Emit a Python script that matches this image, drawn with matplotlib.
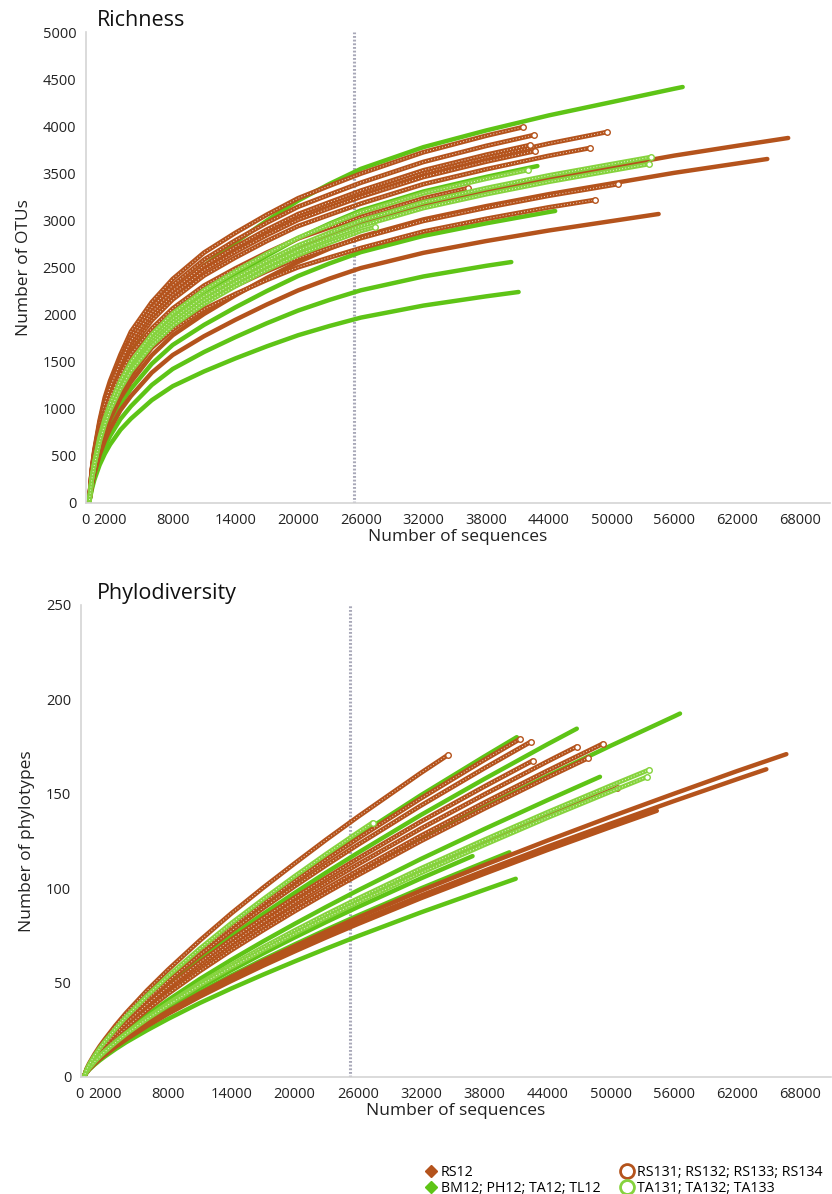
import matplotlib
matplotlib.use('Agg')
import matplotlib.pyplot as plt
from matplotlib.lines import Line2D

plt.rcParams['font.family'] = ['Open Sans', 'DejaVu Sans']

grid = [0, 250, 500, 1000, 1500, 2000, 3000, 4000, 6000, 8000, 11000, 14000, 17000,
        20000, 23000, 26000, 32000, 38000, 44000, 50000, 56000, 62000, 68000]
rarefy_depth = 25300

# ---- Richness (number of OTUs) ----
rich_rs12 = [
    [0, 214, 372, 610, 788, 937, 1175, 1353, 1651, 1874, 2112, 2320, 2513, 2691, 2840, 2974, 3167, 3316, 3450, 3569, 3688, 3792],
    [0, 204, 353, 580, 749, 891, 1117, 1286, 1569, 1781, 2007, 2205, 2389, 2558, 2700, 2827, 3011, 3152, 3279, 3392, 3505, 3604],
    [0, 180, 312, 511, 661, 786, 985, 1135, 1384, 1571, 1771, 1945, 2107, 2257, 2382, 2494, 2656, 2781, 2893, 2993],
]
rich_rs12_end = [(66900, 3875), (64900, 3652), (54500, 3068)]

rich_bm12 = [
    [0, 255, 443, 727, 940, 1117, 1401, 1614, 1969, 2235, 2518, 2767, 2997, 3210, 3387, 3547, 3778, 3955, 4115, 4256, 4398],
    [0, 224, 388, 637, 823, 978, 1226, 1413, 1723, 1956, 2205, 2422, 2624, 2810, 2965, 3105, 3307, 3462],
    [0, 192, 333, 546, 706, 839, 1052, 1212, 1478, 1678, 1891, 2077, 2250, 2410, 2543, 2663, 2836, 2969, 3089],
    [0, 163, 282, 463, 598, 711, 892, 1027, 1253, 1423, 1603, 1761, 1908, 2043, 2156, 2258, 2405, 2518],
    [0, 142, 246, 403, 522, 620, 777, 895, 1092, 1240, 1397, 1535, 1663, 1781, 1879, 1968, 2096, 2194],
]
rich_bm12_end = [(56800, 4416), (42900, 3577), (44600, 3100), (40400, 2558), (41100, 2240)]

rich_rs13 = [
    [0, 350, 560, 874, 1119, 1294, 1574, 1818, 2133, 2378, 2658, 2868, 3060, 3235, 3368, 3497, 3724, 3899],
    [0, 340, 544, 850, 1088, 1258, 1530, 1768, 2074, 2312, 2584, 2788, 2975, 3145, 3274, 3400, 3621, 3791],
    [0, 329, 526, 823, 1053, 1217, 1481, 1711, 2007, 2237, 2500, 2698, 2879, 3043, 3168, 3290, 3504, 3668, 3816],
    [0, 318, 508, 795, 1017, 1176, 1430, 1653, 1939, 2161, 2415, 2606, 2781, 2940, 3060, 3178, 3385, 3543, 3686],
    [0, 325, 520, 813, 1040, 1203, 1463, 1690, 1983, 2210, 2470, 2665, 2844, 3006, 3130, 3250, 3461, 3624],
    [0, 332, 531, 829, 1061, 1227, 1492, 1724, 2023, 2255, 2520, 2719, 2902, 3067, 3193, 3316, 3532, 3697],
    [0, 304, 486, 759, 972, 1124, 1367, 1579, 1853, 2065, 2308, 2490, 2657, 2809, 2925, 3037, 3234],
    [0, 281, 450, 703, 900, 1040, 1265, 1462, 1715, 1912, 2137, 2306, 2461, 2601, 2708, 2812, 2995, 3135, 3262, 3374],
    [0, 271, 433, 677, 866, 1001, 1218, 1407, 1651, 1840, 2057, 2219, 2368, 2503, 2606, 2706, 2882, 3017, 3139],
]
rich_rs13_end = [(41500, 3990), (42600, 3907), (49550, 3938), (47950, 3769), (42700, 3737),
                 (42200, 3800), (36300, 3344), (50600, 3386), (48400, 3217)]

rich_ta13 = [
    [0, 255, 420, 675, 869, 1019, 1259, 1454, 1739, 1955, 2195, 2389, 2569, 2734, 2869, 2998, 3193, 3343, 3478, 3598],
    [0, 250, 412, 662, 853, 1000, 1235, 1426, 1705, 1917, 2152, 2343, 2520, 2681, 2814, 2940, 3131, 3278, 3410, 3528],
    [0, 262, 432, 695, 895, 1050, 1297, 1497, 1790, 2013, 2260, 2460, 2646, 2815, 2954, 3087, 3288, 3442],
    [0, 245, 404, 650, 837, 982, 1213, 1400, 1674, 1882, 2113, 2301, 2474, 2633, 2763, 2887],
]
rich_ta13_end = [(53800, 3673), (53600, 3599), (42000, 3535), (27400, 2930)]

# ---- Phylodiversity (number of phylotypes) ----
phylo_rs12 = [
    [0, 2.6, 4.4, 7.3, 10.0, 12.3, 16.7, 20.8, 28.1, 34.9, 44.3, 53.1, 61.4, 69.3, 77.0, 84.4, 98.7, 112.2, 125.2, 137.8, 150.0, 162.0],
    [0, 2.5, 4.3, 7.2, 9.7, 12.0, 16.3, 20.2, 27.4, 33.9, 43.2, 51.7, 59.8, 67.5, 75.0, 82.2, 96.1, 109.2, 122.0, 134.2, 146.1, 157.7],
    [0, 2.5, 4.2, 7.0, 9.6, 11.8, 16.0, 19.9, 27.0, 33.5, 42.5, 50.9, 58.9, 66.5, 73.9, 81.0, 94.7, 107.6, 120.2, 132.3],
]
phylo_rs12_end = [(66700, 171), (64800, 163), (54400, 141)]

phylo_bm12 = [
    [0, 4.0, 6.6, 11.1, 15.1, 18.6, 25.3, 31.4, 42.5, 52.7, 67.0, 80.3, 92.8, 104.8, 116.5, 127.7, 149.3, 169.7],
    [0, 3.7, 6.2, 10.3, 14.0, 17.3, 23.5, 29.2, 39.5, 49.0, 62.3, 74.7, 86.3, 97.5, 108.3, 118.7, 138.8, 157.8, 176.2],
    [0, 3.3, 5.6, 9.3, 12.7, 15.7, 21.3, 26.4, 35.8, 44.4, 56.4, 67.6, 78.1, 88.2, 97.9, 107.4, 125.6, 142.7, 159.4, 175.4, 190.9],
    [0, 3.1, 5.1, 8.6, 11.7, 14.4, 19.6, 24.3, 32.9, 40.8, 51.9, 62.1, 71.8, 81.1, 90.1, 98.8, 115.5, 131.3, 146.6],
    [0, 2.8, 4.7, 7.8, 10.6, 13.1, 17.8, 22.1, 30.0, 37.2, 47.3, 56.6, 65.4, 73.9, 82.1, 90.0, 105.2],
    [0, 2.3, 3.9, 6.5, 8.8, 10.9, 14.8, 18.4, 24.8, 30.8, 39.2, 46.9, 54.2, 61.2, 68.0, 74.6, 87.2, 99.1],
    [0, 2.7, 4.4, 7.4, 10.1, 12.5, 16.9, 21.0, 28.5, 35.3, 44.9, 53.8, 62.2, 70.2, 78.0, 85.5, 99.9, 113.6],
]
phylo_bm12_end = [(41100, 180), (46800, 184.5), (56600, 192.5), (49000, 159),
                  (36900, 117), (41000, 105), (40400, 119)]

phylo_rs13 = [
    [0, 4.3, 7.2, 12.0, 16.3, 20.1, 27.3, 33.9, 45.9, 56.9, 72.3, 86.7, 100.2, 113.1, 125.7, 137.8, 161.1],
    [0, 3.9, 6.6, 11.0, 14.9, 18.4, 25.0, 31.1, 42.1, 52.2, 66.3, 79.4, 91.8, 103.7, 115.2, 126.3, 147.6, 167.9],
    [0, 3.8, 6.4, 10.7, 14.5, 18.0, 24.4, 30.3, 41.0, 50.8, 64.6, 77.4, 89.4, 101.0, 112.2, 123.0, 143.8, 163.5],
    [0, 3.5, 5.9, 9.8, 13.3, 16.4, 22.3, 27.7, 37.5, 46.5, 59.1, 70.8, 81.9, 92.4, 102.7, 112.6, 131.6, 149.6, 167.1],
    [0, 3.4, 5.7, 9.5, 12.9, 16.0, 21.6, 26.9, 36.4, 45.1, 57.4, 68.7, 79.5, 89.7, 99.7, 109.3, 127.8, 145.3, 162.2],
    [0, 3.3, 5.6, 9.3, 12.6, 15.6, 21.2, 26.3, 35.6, 44.2, 56.1, 67.2, 77.7, 87.8, 97.5, 106.9, 125.0, 142.1, 158.6],
    [0, 3.6, 6.0, 10.1, 13.7, 16.9, 22.9, 28.5, 38.5, 47.8, 60.7, 72.8, 84.1, 95.0, 105.5, 115.7, 135.3, 153.8],
    [0, 2.9, 4.8, 8.1, 11.0, 13.6, 18.4, 22.9, 30.9, 38.4, 48.8, 58.4, 67.5, 76.3, 84.7, 92.9, 108.6, 123.5, 137.9, 151.7],
]
phylo_rs13_end = [(34600, 170.7), (41400, 179), (42450, 177.6), (46800, 175),
                  (49300, 176.6), (47900, 169), (42600, 167.5), (50600, 153)]

phylo_ta13 = [
    [0, 2.9, 4.9, 8.2, 11.2, 13.8, 18.7, 23.2, 31.5, 39.0, 49.6, 59.4, 68.7, 77.6, 86.2, 94.5, 110.5, 125.6, 140.2, 154.3],
    [0, 2.9, 4.8, 8.0, 10.9, 13.5, 18.3, 22.8, 30.8, 38.2, 48.6, 58.2, 67.2, 75.9, 84.4, 92.5, 108.1, 122.9, 137.3, 151.1],
    [0, 4.0, 6.7, 11.3, 15.3, 18.9, 25.6, 31.9, 43.1, 53.5, 68.0, 81.5, 94.1, 106.3, 118.1, 129.5],
]
phylo_ta13_end = [(53700, 162.8), (53500, 159), (27400, 134.7)]

xticks = [0, 2000, 8000, 14000, 20000, 26000, 32000, 38000, 44000, 50000, 56000, 62000, 68000]

brown = '#B4531C'
green = '#5EC416'
lgreen = '#86D33E'


def draw(ax, curves, ends, color, hollow):
    for ys, (ex, ey) in zip(curves, ends):
        xs = grid[:len(ys)] + [ex]
        yy = ys + [ey]
        if hollow:
            ax.plot(xs, yy, color=color, lw=3.4, solid_capstyle='round')
            ax.plot(xs, yy, color='white', lw=0.7, ls=(0, (1, 2.2)), alpha=0.8)
            ax.plot([ex], [ey], 'o', ms=4, mfc='white', mec=color, mew=1)
        else:
            ax.plot(xs, yy, color=color, lw=3.2, solid_capstyle='round')


W, H = 832, 1194
fig = plt.figure(figsize=(W / 100, H / 100), dpi=100)

panels = [
    dict(rect=[86, 32, 830, 503], ylim=(0, 5000), ystep=500, ylabel='Number of OTUs',
         title='Richness', xlim=(-300, 70900),
         series=[(rich_bm12, rich_bm12_end, green, False),
                 (rich_rs12, rich_rs12_end, brown, False),
                 (rich_rs13, rich_rs13_end, brown, True),
                 (rich_ta13, rich_ta13_end, lgreen, True)]),
    dict(rect=[81, 605, 831, 1077], ylim=(0, 250), ystep=50, ylabel='Number of phylotypes',
         title='Phylodiversity', xlim=(-285, 70940),
         series=[(phylo_bm12, phylo_bm12_end, green, False),
                 (phylo_rs12, phylo_rs12_end, brown, False),
                 (phylo_rs13, phylo_rs13_end, brown, True),
                 (phylo_ta13, phylo_ta13_end, lgreen, True)]),
]

for p in panels:
    l, t, r, b = p['rect']
    ax = fig.add_axes([l / W, 1 - b / H, (r - l) / W, (b - t) / H])
    ax.axvline(rarefy_depth, color='#A8A8B8', lw=2.2, ls=(0, (0.6, 0.6)), zorder=0)
    for curves, ends, color, hollow in p['series']:
        draw(ax, curves, ends, color, hollow)
    ax.set_xlim(*p['xlim'])
    ax.set_ylim(*p['ylim'])
    ax.set_xticks(xticks)
    ax.set_xticklabels([str(v) for v in xticks])
    ax.get_xticklabels()[0].set_ha('right')
    ax.set_yticks(range(p['ylim'][0], p['ylim'][1] + 1, p['ystep']))
    for side in ['top', 'right']:
        ax.spines[side].set_visible(False)
    for side in ['left', 'bottom']:
        ax.spines[side].set_color('#D4D4D4')
        ax.spines[side].set_linewidth(1.2)
    ax.tick_params(length=0, labelsize=10.5, pad=7, colors='#222222')
    ax.set_xlabel('Number of sequences', fontsize=12.5, labelpad=1, color='#222222')
    ax.set_ylabel(p['ylabel'], fontsize=12.5, labelpad=8, color='#222222')
    fig.text(97 / W, 1 - (t - 12) / H, p['title'], fontsize=15.5, va='center', ha='left',
             color='#111111')

handles = [
    Line2D([], [], ls='none', marker='D', ms=6, color=brown),
    Line2D([], [], ls='none', marker='D', ms=6, color=green),
    Line2D([], [], ls='none', marker='o', ms=10, mfc='none', mec=brown, mew=2),
    Line2D([], [], ls='none', marker='o', ms=10, mfc='none', mec=lgreen, mew=2),
]
labels = ['RS12', 'BM12; PH12; TA12; TL12', 'RS131; RS132; RS133; RS134', 'TA131; TA132; TA133']
fig.legend(handles, labels, ncol=2, loc='upper left', bbox_to_anchor=(418 / W, 1 - 1158 / H),
           frameon=False, fontsize=10.2, handlelength=0.8, handletextpad=0.3,
           columnspacing=1.5, labelspacing=0.05, borderpad=0)

fig.savefig('out.png', dpi=100)
